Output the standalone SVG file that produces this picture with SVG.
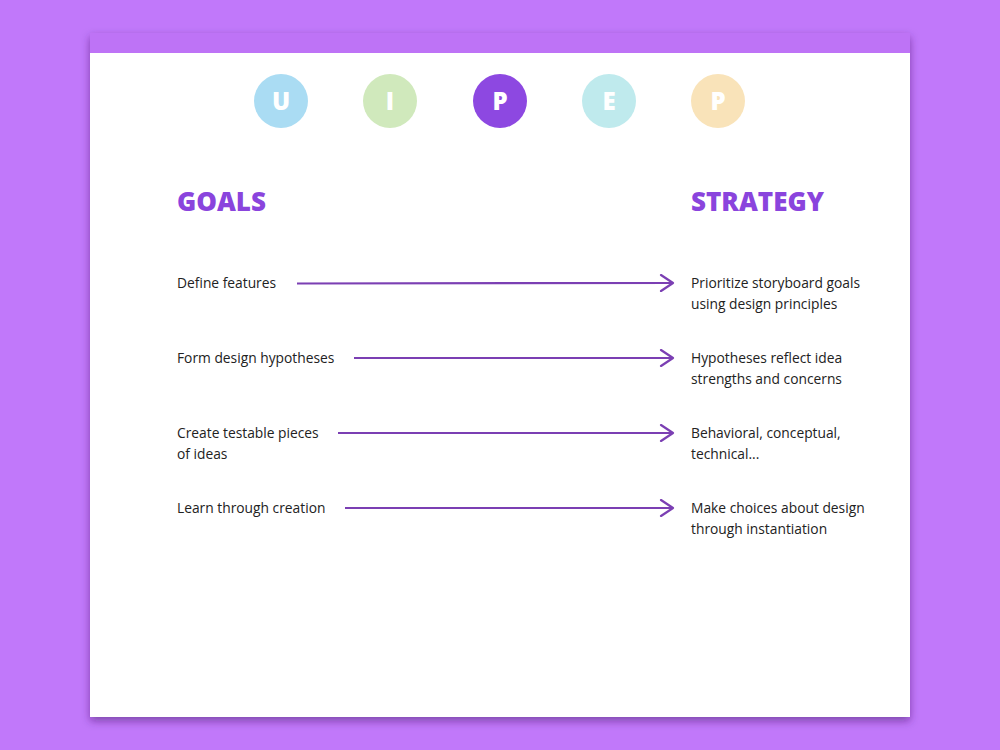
<svg xmlns="http://www.w3.org/2000/svg" width="1000" height="750" viewBox="0 0 1000 750">
<defs>
<filter id="sh" x="-5%" y="-5%" width="110%" height="115%">
<feDropShadow dx="0" dy="4" stdDeviation="4" flood-color="#3a1060" flood-opacity="0.5"/>
</filter>
<marker id="ah" markerWidth="16" markerHeight="18" refX="14" refY="9" orient="auto" markerUnits="userSpaceOnUse">
<path d="M2,1 L14,9 L2,17" fill="none" stroke="#7b3fb3" stroke-width="2.2" stroke-linecap="round" stroke-linejoin="round"/>
</marker>
<style>
.body{font-family:"Open Sans","Liberation Sans",sans-serif;font-size:13.8px;fill:#222}
.head{font-family:"Open Sans","Liberation Sans",sans-serif;font-size:26px;font-weight:800;fill:#8a44dd}
.let{font-family:"Open Sans","Liberation Sans",sans-serif;font-size:24px;font-weight:800;fill:#fff;text-anchor:middle}
.conn{stroke:#7b3fb3;stroke-width:2.2;fill:none;marker-end:url(#ah)}
</style>
</defs>
<rect width="1000" height="750" fill="#c178fa"/>
<g id="card">
<rect x="90" y="33" width="820" height="684" fill="#ffffff" filter="url(#sh)"/>
<rect x="90" y="33" width="820" height="20" fill="#be73f6"/>
</g>
<g id="step-u"><circle cx="281" cy="101" r="27" fill="#aadcf3"/><text class="let" x="281" y="110">U</text></g>
<g id="step-i"><circle cx="390" cy="101" r="27" fill="#d0e9bc"/><text class="let" x="390" y="110">I</text></g>
<g id="step-p1"><circle cx="500" cy="101" r="27" fill="#8d48e1"/><text class="let" x="500" y="110">P</text></g>
<g id="step-e"><circle cx="609" cy="101" r="27" fill="#bfeaed"/><text class="let" x="609" y="110">E</text></g>
<g id="step-p2"><circle cx="718" cy="101" r="27" fill="#f9e3b9"/><text class="let" x="718" y="110">P</text></g>
<g id="goals-head"><text class="head" x="177" y="211">GOALS</text></g>
<g id="strategy-head"><text class="head" x="691" y="211">STRATEGY</text></g>
<g id="goal1"><text class="body" x="177" y="288">Define features</text></g>
<g id="goal2"><text class="body" x="177" y="363">Form design hypotheses</text></g>
<g id="goal3"><text class="body" x="177" y="438">Create testable pieces</text><text class="body" x="177" y="459">of ideas</text></g>
<g id="goal4"><text class="body" x="177" y="513">Learn through creation</text></g>
<g id="strat1"><text class="body" x="691" y="288">Prioritize storyboard goals</text><text class="body" x="691" y="309">using design principles</text></g>
<g id="strat2"><text class="body" x="691" y="363">Hypotheses reflect idea</text><text class="body" x="691" y="384">strengths and concerns</text></g>
<g id="strat3"><text class="body" x="691" y="438">Behavioral, conceptual,</text><text class="body" x="691" y="459">technical...</text></g>
<g id="strat4"><text class="body" x="691" y="513">Make choices about design</text><text class="body" x="691" y="534">through instantiation</text></g>
<g id="connectors">
<line class="conn" x1="297" y1="283.5" x2="673" y2="283"/>
<line class="conn" x1="354" y1="358" x2="673" y2="358"/>
<line class="conn" x1="338" y1="433" x2="673" y2="433"/>
<line class="conn" x1="345" y1="508" x2="673" y2="508"/>
</g>
</svg>
